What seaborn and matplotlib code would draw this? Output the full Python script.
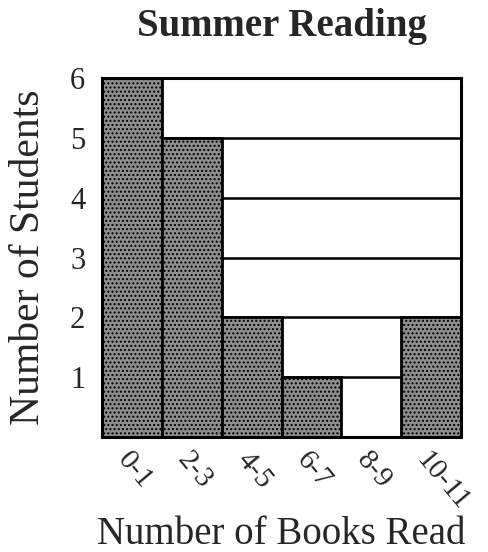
import matplotlib
matplotlib.use("Agg")
import matplotlib.pyplot as plt
import seaborn as sns
import pandas as pd

# data
book_ranges = ["0-1", "2-3", "4-5", "6-7", "8-9", "10-11"]
students = [6, 5, 2, 1, 0, 2]

df = pd.DataFrame({"books": book_ranges, "students": students})

sns.set_style("white")
plt.rcParams['font.family'] = ['Liberation Serif', 'DejaVu Serif']
plt.rcParams['hatch.color'] = "#6a6a6a"

fig = plt.figure(figsize=(4.88, 5.52), dpi=100)
ax = fig.add_axes([0.209, 0.208, 0.736, 0.651])

# horizontal grid lines behind the bars
for yv in range(1, 7):
    ax.axhline(yv, color="black", linewidth=1.8, zorder=0)

sns.barplot(x="books", y="students", data=df, ax=ax, width=1.0,
            color="#8e8e8e", saturation=1, edgecolor="black", linewidth=2, zorder=2)
for p in ax.patches:
    p.set_hatch("....")
    p.set_edgecolor("black")

ax.set_ylim(0, 6)
ax.set_xlim(-0.5, 5.5)
ax.set_yticks([1, 2, 3, 4, 5, 6])
ax.set_yticklabels(["1", "2", "3", "4", "5", "6"], fontsize=22)
ax.set_xticks(range(len(book_ranges)))
ax.set_xticklabels(book_ranges, fontsize=21, rotation=-50, ha="left", rotation_mode="anchor")
ax.tick_params(axis="y", length=0, pad=12)
ax.tick_params(axis="x", length=0, pad=7)
for s in ax.spines.values():
    s.set_visible(True)
    s.set_color("black")
    s.set_linewidth(2.2)

ax.set_ylabel("Number of Students", fontsize=30)
ax.set_xlabel("Number of Books Read", fontsize=28)
ax.yaxis.set_label_coords(-0.15, 0.5)
ax.xaxis.set_label_coords(0.5, -0.22)
ax.set_title("Summer Reading", fontsize=28, fontweight="bold", pad=30)

plt.savefig("out.png", dpi=100)
